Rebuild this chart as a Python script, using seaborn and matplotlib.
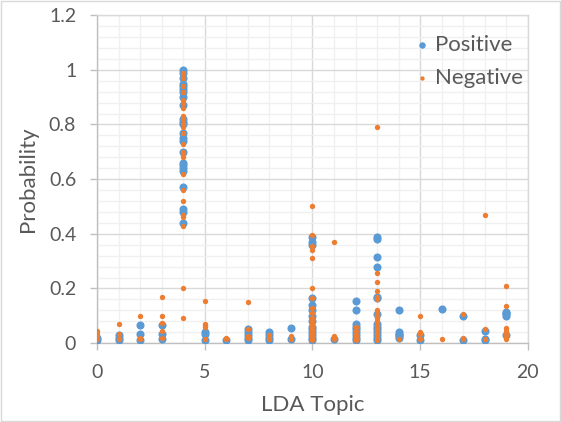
import numpy as np
import pandas as pd
import matplotlib
matplotlib.use("Agg")
import matplotlib.pyplot as plt
import seaborn as sns
from matplotlib.ticker import MultipleLocator, FuncFormatter

# ---- data ----
pos_topic = ([0]*2 + [1]*3 + [2]*3 + [3]*3 + [4]*24 + [5]*3 + [6]*1 + [7]*5 + [8]*4 + [9]*2
             + [10]*14 + [11]*1 + [12]*9 + [13]*14 + [14]*6 + [15]*2 + [16]*1 + [17]*2 + [18]*3 + [19]*5)
pos_prob = ([0.02, 0.01] +
            [0.03, 0.02, 0.01] +
            [0.065, 0.035, 0.01] +
            [0.065, 0.035, 0.015] +
            [1.0, 0.99, 0.97, 0.95, 0.94, 0.93, 0.92, 0.90, 0.87, 0.82, 0.81, 0.80, 0.77, 0.75,
             0.74, 0.70, 0.66, 0.65, 0.64, 0.63, 0.57, 0.49, 0.48, 0.44] +
            [0.04, 0.035, 0.01] +
            [0.01] +
            [0.05, 0.04, 0.03, 0.02, 0.01] +
            [0.04, 0.03, 0.02, 0.01] +
            [0.055, 0.015] +
            [0.39, 0.37, 0.36, 0.165, 0.14, 0.12, 0.10, 0.08, 0.06, 0.05, 0.04, 0.03, 0.02, 0.01] +
            [0.015] +
            [0.155, 0.12, 0.07, 0.06, 0.05, 0.04, 0.03, 0.02, 0.01] +
            [0.39, 0.38, 0.315, 0.28, 0.17, 0.165, 0.105, 0.07, 0.06, 0.05, 0.04, 0.03, 0.02, 0.01] +
            [0.12, 0.04, 0.035, 0.03, 0.025, 0.02] +
            [0.03, 0.01] +
            [0.125] +
            [0.10, 0.01] +
            [0.045, 0.015, 0.01] +
            [0.115, 0.11, 0.105, 0.10, 0.03])

neg_topic = ([0]*4 + [1]*3 + [2]*3 + [3]*5 + [4]*24 + [5]*5 + [6]*2 + [7]*4 + [8]*3 + [9]*2
             + [10]*18 + [11]*4 + [12]*5 + [13]*18 + [14]*1 + [15]*4 + [16]*1 + [17]*3 + [18]*3 + [19]*7)
neg_prob = ([0.045, 0.035, 0.025, 0.015] +
            [0.07, 0.035, 0.015] +
            [0.10, 0.02, 0.015] +
            [0.17, 0.10, 0.075, 0.045, 0.02] +
            [0.99, 0.97, 0.94, 0.92, 0.89, 0.88, 0.86, 0.83, 0.82, 0.80, 0.79, 0.77, 0.73, 0.70,
             0.69, 0.68, 0.62, 0.56, 0.52, 0.47, 0.46, 0.43, 0.20, 0.09] +
            [0.155, 0.07, 0.065, 0.06, 0.015] +
            [0.02, 0.015] +
            [0.15, 0.05, 0.025, 0.02] +
            [0.03, 0.02, 0.015] +
            [0.025, 0.015] +
            [0.50, 0.395, 0.355, 0.34, 0.31, 0.20, 0.165, 0.13, 0.11, 0.09, 0.08, 0.07, 0.06,
             0.05, 0.04, 0.03, 0.02, 0.01] +
            [0.37, 0.025, 0.02, 0.015] +
            [0.06, 0.045, 0.03, 0.02, 0.01] +
            [0.79, 0.255, 0.225, 0.19, 0.17, 0.16, 0.12, 0.11, 0.10, 0.09, 0.08, 0.07, 0.06,
             0.05, 0.04, 0.03, 0.02, 0.01] +
            [0.015] +
            [0.10, 0.04, 0.035, 0.015] +
            [0.015] +
            [0.105, 0.02, 0.015] +
            [0.47, 0.05, 0.015] +
            [0.21, 0.135, 0.055, 0.045, 0.035, 0.025, 0.015])

pos_df = pd.DataFrame({"LDA Topic": pos_topic, "Probability": pos_prob})
neg_df = pd.DataFrame({"LDA Topic": neg_topic, "Probability": neg_prob})

# ---- style ----
sns.set_theme(style="white")
plt.rcParams["font.family"] = ["Lato", "DejaVu Sans"]
TXT = "#595959"

fig = plt.figure(figsize=(5.61, 4.22), dpi=100)
ax = fig.add_axes([0.173, 0.187, 0.768, 0.777])

sns.scatterplot(data=pos_df, x="LDA Topic", y="Probability", ax=ax, color="#5B9BD5",
                s=34, linewidth=0, label="Positive", zorder=3)
sns.scatterplot(data=neg_df, x="LDA Topic", y="Probability", ax=ax, color="#ED7D31",
                s=15, linewidth=0, label="Negative", zorder=4)

ax.set_xlim(0, 20)
ax.set_ylim(0, 1.2)
ax.xaxis.set_major_locator(MultipleLocator(5))
ax.xaxis.set_minor_locator(MultipleLocator(1))
ax.yaxis.set_major_locator(MultipleLocator(0.2))
ax.yaxis.set_minor_locator(MultipleLocator(0.04))
ax.yaxis.set_major_formatter(FuncFormatter(lambda v, p: f"{v:.1f}".rstrip("0").rstrip(".") if v else "0"))

ax.grid(which="major", color="#D9D9D9", linewidth=1.0, zorder=0)
ax.grid(which="minor", color="#F0F0F0", linewidth=1.0, zorder=0)
ax.set_axisbelow(True)

for s in ["left", "bottom"]:
    ax.spines[s].set_color("#BFBFBF")
    ax.spines[s].set_linewidth(1.0)
for s in ["top", "right"]:
    ax.spines[s].set_color("#D9D9D9")
    ax.spines[s].set_linewidth(1.0)

ax.tick_params(which="major", axis="both", direction="out", length=5, width=1.0,
               color="#BFBFBF", labelcolor=TXT, labelsize=14, left=True, bottom=True)
ax.tick_params(which="minor", length=0)
ax.tick_params(axis="x", pad=10)
ax.tick_params(axis="y", pad=10)

ax.set_xlabel("LDA Topic", fontsize=16, color=TXT, labelpad=10)
ax.set_ylabel("Probability", fontsize=16, color=TXT, labelpad=8)

leg = ax.legend(loc="upper left", bbox_to_anchor=(0.683, 1.001), frameon=False,
                fontsize=16, handlelength=1.0, handletextpad=0.05, labelspacing=0.6,
                markerscale=0.8)
for t in leg.get_texts():
    t.set_color(TXT)

# outer chart border
fig.patches.append(plt.Rectangle((0.002, 0.002), 0.996, 0.996, transform=fig.transFigure,
                                 fill=False, edgecolor="#D9D9D9", linewidth=1.0))

fig.savefig("out.png", dpi=100)
